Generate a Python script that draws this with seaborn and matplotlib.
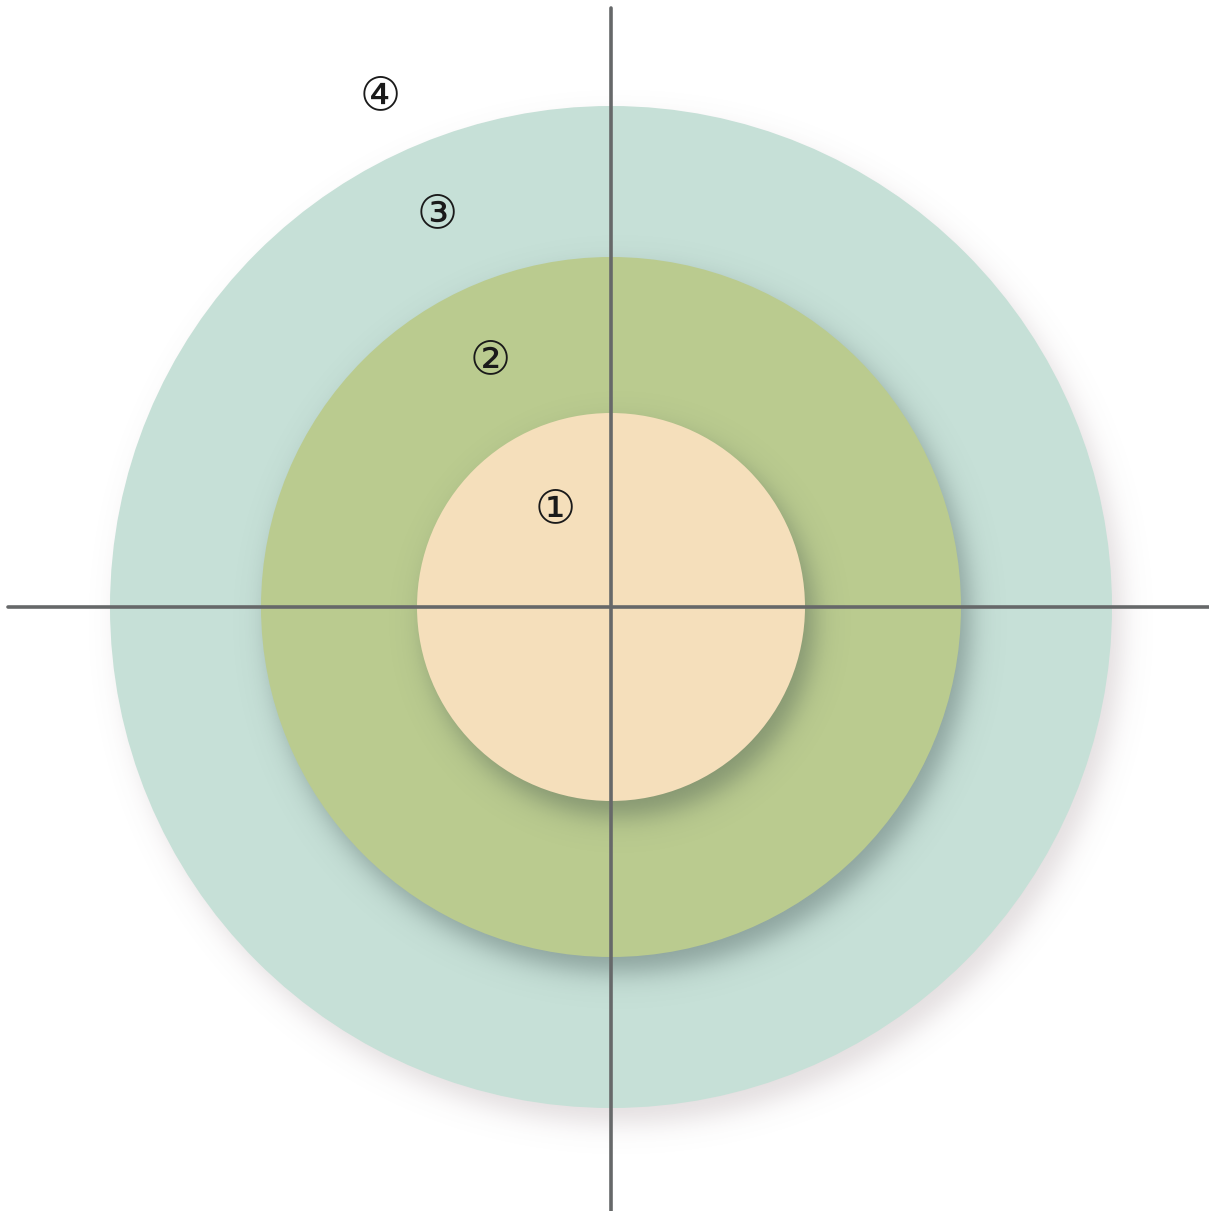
import numpy as np
import seaborn as sns
import matplotlib.pyplot as plt
from matplotlib.patches import Circle

sns.set_theme(style='white')
plt.rcParams['font.family'] = ['DejaVu Sans', 'Noto Sans CJK SC']

# zones, from the centre out
zone_labels = ['①', '②', '③', '④']
zone_radii = [194, 350, 501]
zone_colors = ['#f5dfbb', '#bacb8f', '#c6e0d7']
label_x = [555, 490, 437, 380]
label_y = [510, 361, 215, 97]

W, H = 1209, 1211
cx, cy = 611, 607

fig = plt.figure(figsize=(W / 100, H / 100), dpi=100)
ax = fig.add_axes([0, 0, 1, 1])
ax.set_xlim(0, W)
ax.set_ylim(H, 0)
ax.set_axis_off()

yy, xx = np.mgrid[0:H, 0:W] + 0.5


def shadow(r, dx, dy, blur, strength, tint, z):
    d = np.hypot(xx - (cx + dx), yy - (cy + dy))
    a = strength / (1 + np.exp((d - r) / blur))
    img = np.zeros((H, W, 4))
    img[..., :3] = tint
    img[..., 3] = a
    ax.imshow(img, extent=(0, W, H, 0), interpolation='bilinear', zorder=z)


# outer to inner, each with a soft drop shadow
z = 1
for i in reversed(range(len(zone_radii))):
    r = zone_radii[i]
    if i == 2:
        shadow(r, 10, 15, 8, 0.2, (0.45, 0.35, 0.38), z)
    else:
        shadow(r, 9, 15, 8, 0.4, (0.2, 0.27, 0.27), z)
    ax.add_patch(Circle((cx, cy), r, facecolor=zone_colors[i], edgecolor='none', zorder=z + 1))
    z += 2

ax.axhline(cy, xmin=8 / W, xmax=1, color='#666869', lw=2.6, zorder=20)
ax.axvline(cx, ymin=0, ymax=1 - 8 / H, color='#666869', lw=2.6, zorder=20)

for lab, x, y in zip(zone_labels, label_x, label_y):
    ax.text(x, y, lab, fontsize=33, ha='center', va='center', color='#1a1a1a', zorder=21)

fig.savefig('out.png', dpi=100)
